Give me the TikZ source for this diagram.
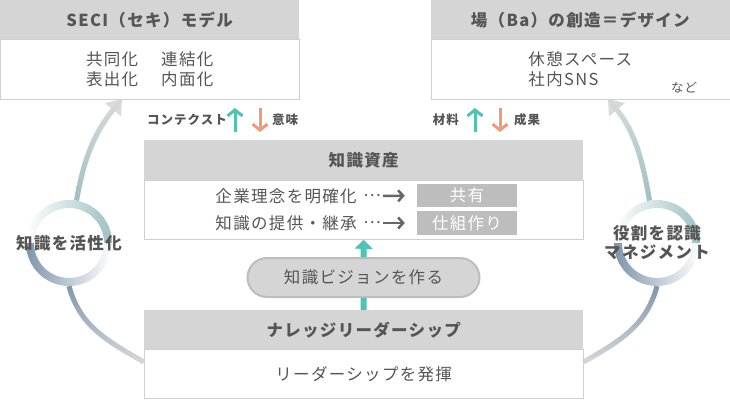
\documentclass[tikz,border=0pt]{standalone}
\usepackage{fontspec}
\setmainfont{Noto Sans CJK JP}[LetterSpace=8]
\usetikzlibrary{arrows.meta,fadings}
\definecolor{hdrgray}{HTML}{D5D5D5}
\definecolor{linegray}{HTML}{D0D0D0}
\definecolor{taggray}{HTML}{BDBDBD}
\definecolor{txtgray}{HTML}{555555}
\definecolor{mint}{HTML}{4CC3B3}
\definecolor{peach}{HTML}{EE9C78}
\definecolor{ringteal}{HTML}{9EC0C3}
\definecolor{ringblue}{HTML}{7E95AA}
\definecolor{arclight}{HTML}{D8DADB}
\tikzfading[name=arcup, top color=transparent!100, bottom color=transparent!0]
\tikzfading[name=arcdown, top color=transparent!0, bottom color=transparent!100]

\begin{document}
\begin{tikzpicture}[x=1pt, y=1pt, text=txtgray, font=\fontsize{16.5}{20}\selectfont,
    hdr/.style={fill=hdrgray, inner sep=0pt, minimum height=39pt, font=\fontsize{16.5}{20}\selectfont\bfseries},
    bodybox/.style={draw=linegray, fill=white, inner sep=0pt},
    tagbox/.style={fill=taggray, text=white, inner sep=0pt, minimum width=100pt},
    lbl/.style={inner sep=0pt, font=\fontsize{12.5}{15}\selectfont\bfseries},
    ringnode/.style={circle, inner sep=0pt, minimum size=86pt},
    ringtext/.style={align=center, font=\fontsize{16.5}{19}\selectfont\bfseries},
    vision/.style={rounded corners=19.5pt, fill=hdrgray, draw=taggray, line width=2pt},
    flowline/.style={line width=5pt},
    uparrow/.style={mint, line width=3pt, -{Straight Barb[length=6pt, width=15pt]}},
    downarrow/.style={peach, line width=3pt, -{Straight Barb[length=6pt, width=15pt]}},
    dotarrow/.style={black!60, line width=2.5pt, -{Straight Barb[length=5pt, width=11pt]}}]
  \useasboundingbox (0,0) rectangle (730,400);

  \node [hdr, minimum width=299pt, anchor=north west] (seciHead) at (0,400) {SECI（セキ）モデル};
  \node [bodybox, minimum width=299pt, minimum height=60pt, anchor=north, align=center] (seciBody) at (seciHead.south) {共同化\hspace{1.4em}連結化\\表出化\hspace{1.4em}内面化};
  \node [hdr, minimum width=299pt, anchor=north east] (baHead) at (730,400) {場（Ba）の創造＝デザイン};
  \node [bodybox, minimum width=299pt, minimum height=60pt, anchor=north, align=left] (baBody) at (baHead.south) {休憩スペース\\社内SNS};
  \node [font=\fontsize{12.5}{15}\selectfont] (etc) at (684,312) {など};

  \node [lbl, anchor=east] (context) at (227,280) {コンテクスト};
  \node [lbl, anchor=west] (meaning) at (272,280) {意味};
  \node [lbl, anchor=east] (material) at (459,280) {材料};
  \node [lbl, anchor=west] (result) at (514,280) {成果};
  \foreach \x in {235,475} {
    \draw [uparrow] (\x,268) -- (\x,292);
    \draw [downarrow] (\x+25,292) -- (\x+25,268);
  }

  \node [hdr, minimum width=439pt, minimum height=40pt, anchor=north west] (assetsHead) at (144,260) {知識資産};
  \node [bodybox, minimum width=439pt, minimum height=59pt, anchor=north] (assetsBody) at (assetsHead.south) {};
  \node [anchor=east, inner sep=0pt] (idea) at (381,204) {企業理念を明確化\hspace{.4em}\raisebox{.33em}{⋯}};
  \node [anchor=east, inner sep=0pt] (succession) at (381,177) {知識の提供・継承\hspace{.4em}\raisebox{.33em}{⋯}};
  \node [tagbox, minimum height=23pt] (share) at (467,204.5) {共有};
  \node [tagbox, minimum height=24pt] (mech) at (467,177) {仕組作り};
  \draw [dotarrow, shorten <=2pt, shorten >=12pt] (idea.east) -- (share.west);
  \draw [dotarrow, shorten <=2pt, shorten >=12pt] (succession.east) -- (mech.west);

  \node [vision, minimum width=232pt, minimum height=39pt] (vision) at (363.5,122.5) {知識ビジョンを作る};
  \node [hdr, minimum width=439pt, anchor=north west] (leadHead) at (144,90) {ナレッジリーダーシップ};
  \node [bodybox, minimum width=439pt, minimum height=49pt, anchor=north] (leadBody) at (leadHead.south) {リーダーシップを発揮};
  \draw [mint, line width=6pt] (leadHead.north) -- (vision.south);
  \draw [mint, line width=6pt, -{Triangle[length=9pt, width=18pt]}] (vision.north) -- (assetsBody.south);

  \node [ringnode] (ring1) at (69,157) {};
  \node [ringnode] (ring2) at (657,157) {};
  \foreach \r in {ring1,ring2} {
    \shade [left color=white, right color=ringteal] ([shift={(0:43pt)}]\r.center) arc [start angle=0, end angle=180, radius=43pt] -- ([shift={(180:35pt)}]\r.center) arc [start angle=180, end angle=0, radius=35pt] -- cycle;
    \shade [left color=ringblue, right color=white] ([shift={(180:43pt)}]\r.center) arc [start angle=180, end angle=360, radius=43pt] -- ([shift={(0:35pt)}]\r.center) arc [start angle=360, end angle=180, radius=35pt] -- cycle;
  }
  \node [ringtext] (ring1text) at (ring1) {知識を活性化};
  \node [ringtext] (ring2text) at (ring2) {役割を認識\\マネジメント};

  \coordinate (tipL) at (122,301);
  \coordinate (tipR) at (608,301);
  \draw [flowline, arclight, -{Triangle[length=14pt, width=20pt]}] (ring1.80) to [out=80, in=-130] (tipL);
  \draw [flowline, ringteal, path fading=arcup] (ring1.80) to [out=80, in=-130] (tipL);
  \draw [flowline, arclight] (ring1.south) to [out=-75, in=150] ([yshift=12pt]leadBody.west);
  \draw [flowline, ringblue, path fading=arcdown] (ring1.south) to [out=-75, in=150] ([yshift=12pt]leadBody.west);
  \draw [flowline, arclight, -{Triangle[length=14pt, width=20pt]}] (ring2.100) to [out=100, in=-50] (tipR);
  \draw [flowline, ringteal, path fading=arcup] (ring2.100) to [out=100, in=-50] (tipR);
  \draw [flowline, arclight] (ring2.south) to [out=-105, in=30] ([yshift=12pt]leadBody.east);
  \draw [flowline, ringblue, path fading=arcdown] (ring2.south) to [out=-105, in=30] ([yshift=12pt]leadBody.east);
\end{tikzpicture}
\end{document}
